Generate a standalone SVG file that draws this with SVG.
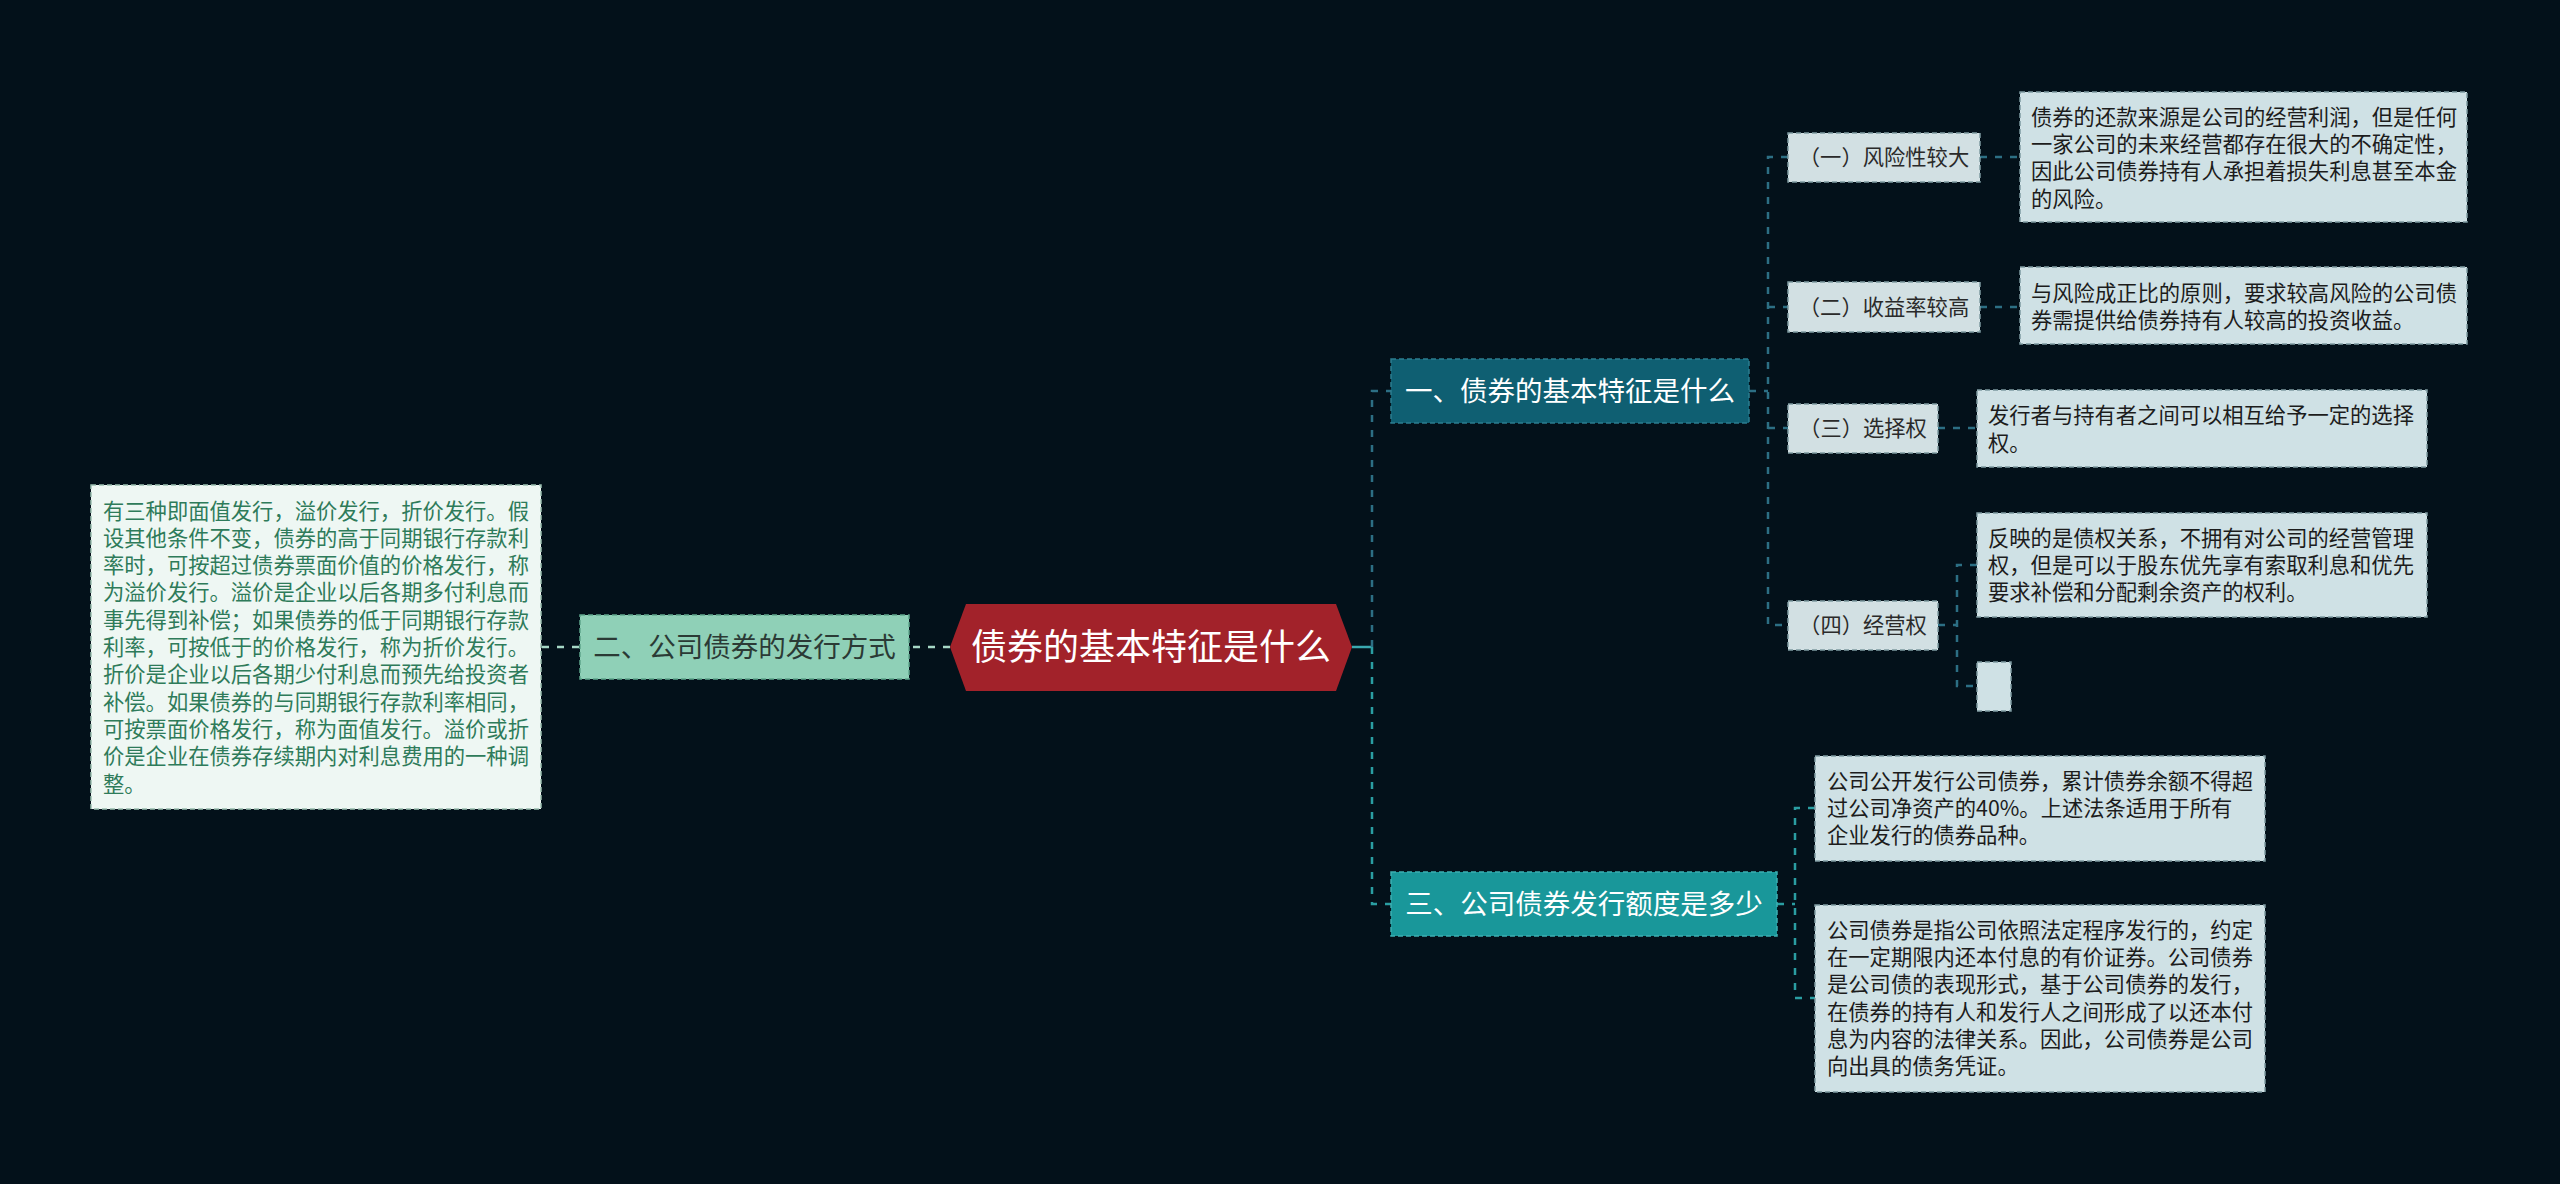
<svg xmlns="http://www.w3.org/2000/svg" width="2560" height="1184" viewBox="0 0 2560 1184">
<style>
text{font-family:"Noto Sans CJK SC","Noto Sans",sans-serif;}
.conn{fill:none;stroke-width:2.5;stroke-dasharray:7 8;}
.c1{stroke:#2c6f84;}
.c3{stroke:#2a9ea2;}
.cl{stroke:#a6d8c6;}
.detail{fill:#cfe1e5;stroke:#7f9aa1;stroke-width:1.5;stroke-dasharray:5 3;}
.sub{fill:#d2e0e3;stroke:#7f9aa1;stroke-width:1.5;stroke-dasharray:5 3;}
.dt{font-size:21.3px;fill:#1c1c1c;}
.st{font-size:21.3px;fill:#2a2a2a;text-anchor:middle;}
.lt{font-size:21.3px;fill:#2e7b5a;}
</style>
<rect width="2560" height="1184" fill="#03111a"/>

<g id="connectors">
  <line x1="950" y1="647" x2="909" y2="647" class="conn cl"/>
  <line x1="579" y1="647" x2="541" y2="647" class="conn cl"/>
  <line x1="1352" y1="647" x2="1372" y2="647" stroke="#3aa9b0" stroke-width="2.5"/>
  <polyline points="1372,647 1372,391 1391,391" class="conn c1"/>
  <polyline points="1372,647 1372,904 1391,904" class="conn c3"/>
  <line x1="1749" y1="391" x2="1768" y2="391" class="conn c1"/>
  <polyline points="1788,157 1768,157 1768,625 1788,625" class="conn c1"/>
  <line x1="1768" y1="307" x2="1788" y2="307" class="conn c1"/>
  <line x1="1768" y1="428" x2="1788" y2="428" class="conn c1"/>
  <line x1="1980" y1="157" x2="2020" y2="157" class="conn c1"/>
  <line x1="1980" y1="307" x2="2020" y2="307" class="conn c1"/>
  <line x1="1938" y1="428" x2="1977" y2="428" class="conn c1"/>
  <line x1="1938" y1="625" x2="1957" y2="625" class="conn c1"/>
  <polyline points="1977,565 1957,565 1957,686 1977,686" class="conn c1"/>
  <line x1="1777" y1="904" x2="1795" y2="904" class="conn c3"/>
  <polyline points="1815,808 1795,808 1795,998 1815,998" class="conn c3"/>
</g>

<g id="root">
  <polygon points="950,647 966,604 1336,604 1352,647 1336,691 966,691" fill="#a2222a"/>
  <text x="1151" y="660" font-size="36" fill="#ffffff" text-anchor="middle">债券的基本特征是什么</text>
</g>

<g id="node-left">
  <rect x="580" y="615" width="329" height="64" fill="#8fd0b7" stroke="#5fa58c" stroke-width="1.5" stroke-dasharray="5 3"/>
  <text x="744.5" y="657" font-size="27.5" fill="#2b3a35" text-anchor="middle">二、公司债券的发行方式</text>
</g>

<g id="detail-left">
  <rect x="91" y="485" width="450" height="324" fill="#eef7f3" stroke="#9bbfb0" stroke-width="1.5" stroke-dasharray="5 3"/>
  <text class="lt" x="103" y="518.5">有三种即面值发行，溢价发行，折价发行。假</text>
  <text class="lt" x="103" y="545.8">设其他条件不变，债券的高于同期银行存款利</text>
  <text class="lt" x="103" y="573.1">率时，可按超过债券票面价值的价格发行，称</text>
  <text class="lt" x="103" y="600.4">为溢价发行。溢价是企业以后各期多付利息而</text>
  <text class="lt" x="103" y="627.7">事先得到补偿；如果债券的低于同期银行存款</text>
  <text class="lt" x="103" y="655">利率，可按低于的价格发行，称为折价发行。</text>
  <text class="lt" x="103" y="682.3">折价是企业以后各期少付利息而预先给投资者</text>
  <text class="lt" x="103" y="709.6">补偿。如果债券的与同期银行存款利率相同，</text>
  <text class="lt" x="103" y="736.9">可按票面价格发行，称为面值发行。溢价或折</text>
  <text class="lt" x="103" y="764.2">价是企业在债券存续期内对利息费用的一种调</text>
  <text class="lt" x="103" y="791.5">整。</text>
</g>

<g id="node-1">
  <rect x="1391" y="359" width="358" height="64" fill="#0f5f72" stroke="#2d7d90" stroke-width="1.5" stroke-dasharray="5 3"/>
  <text x="1570" y="401" font-size="27.5" fill="#ffffff" text-anchor="middle">一、债券的基本特征是什么</text>
</g>

<g id="node-3">
  <rect x="1391" y="872" width="386" height="64" fill="#19979a" stroke="#3db0b2" stroke-width="1.5" stroke-dasharray="5 3"/>
  <text x="1584" y="914" font-size="27.5" fill="#ffffff" text-anchor="middle">三、公司债券发行额度是多少</text>
</g>

<g id="sub-1">
  <rect class="sub" x="1788" y="133" width="192" height="49"/>
  <text class="st" x="1884" y="165">（一）风险性较大</text>
</g>
<g id="detail-1">
  <rect class="detail" x="2020" y="92" width="447" height="130"/>
  <text class="dt" x="2031" y="124.7">债券的还款来源是公司的经营利润，但是任何</text>
  <text class="dt" x="2031" y="152">一家公司的未来经营都存在很大的不确定性，</text>
  <text class="dt" x="2031" y="179.3">因此公司债券持有人承担着损失利息甚至本金</text>
  <text class="dt" x="2031" y="206.6">的风险。</text>
</g>

<g id="sub-2">
  <rect class="sub" x="1788" y="282" width="192" height="50"/>
  <text class="st" x="1884" y="314.5">（二）收益率较高</text>
</g>
<g id="detail-2">
  <rect class="detail" x="2020" y="267" width="447" height="77"/>
  <text class="dt" x="2031" y="300.5">与风险成正比的原则，要求较高风险的公司债</text>
  <text class="dt" x="2031" y="327.8">券需提供给债券持有人较高的投资收益。</text>
</g>

<g id="sub-3">
  <rect class="sub" x="1788" y="404" width="150" height="49"/>
  <text class="st" x="1863" y="436">（三）选择权</text>
</g>
<g id="detail-3">
  <rect class="detail" x="1977" y="390" width="450" height="77"/>
  <text class="dt" x="1988" y="423.2">发行者与持有者之间可以相互给予一定的选择</text>
  <text class="dt" x="1988" y="450.5">权。</text>
</g>

<g id="sub-4">
  <rect class="sub" x="1788" y="601" width="150" height="49"/>
  <text class="st" x="1863" y="633">（四）经营权</text>
</g>
<g id="detail-4">
  <rect class="detail" x="1977" y="513" width="450" height="104"/>
  <text class="dt" x="1988" y="545.7">反映的是债权关系，不拥有对公司的经营管理</text>
  <text class="dt" x="1988" y="573">权，但是可以于股东优先享有索取利息和优先</text>
  <text class="dt" x="1988" y="600.3">要求补偿和分配剩余资产的权利。</text>
</g>
<g id="detail-4-empty">
  <rect class="detail" x="1977" y="662" width="34" height="49"/>
</g>

<g id="detail-3-1">
  <rect class="detail" x="1815" y="756" width="450" height="105"/>
  <text class="dt" x="1827" y="788.7">公司公开发行公司债券，累计债券余额不得超</text>
  <text class="dt" x="1827" y="816">过公司净资产的40%。上述法条适用于所有</text>
  <text class="dt" x="1827" y="843.3">企业发行的债券品种。</text>
</g>
<g id="detail-3-2">
  <rect class="detail" x="1815" y="905" width="450" height="187"/>
  <text class="dt" x="1827" y="937.7">公司债券是指公司依照法定程序发行的，约定</text>
  <text class="dt" x="1827" y="965">在一定期限内还本付息的有价证券。公司债券</text>
  <text class="dt" x="1827" y="992.3">是公司债的表现形式，基于公司债券的发行，</text>
  <text class="dt" x="1827" y="1019.6">在债券的持有人和发行人之间形成了以还本付</text>
  <text class="dt" x="1827" y="1046.9">息为内容的法律关系。因此，公司债券是公司</text>
  <text class="dt" x="1827" y="1074.2">向出具的债务凭证。</text>
</g>
</svg>
